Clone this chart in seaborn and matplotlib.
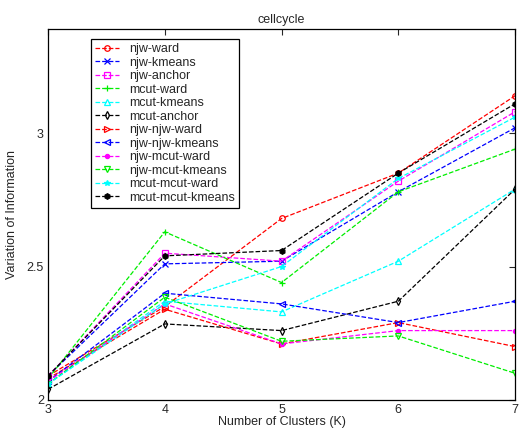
'''Variation of information vs number of clusters for the cellcycle data.'''

# -----------------------------------------------------------------------------
# Modules

from matplotlib import pyplot as plt  # type: ignore
import pandas as pd  # type: ignore
import seaborn as sns  # type: ignore

# -----------------------------------------------------------------------------
# Data

clusters = [3, 4, 5, 6, 7]

methods = ['njw-ward', 'njw-kmeans', 'njw-anchor', 'mcut-ward',
           'mcut-kmeans', 'mcut-anchor', 'njw-njw-ward', 'njw-njw-kmeans',
           'njw-mcut-ward', 'njw-mcut-kmeans', 'mcut-mcut-ward',
           'mcut-mcut-kmeans']

njw_ward = [2.09, 2.35, 2.68, 2.85, 3.14]
njw_kmeans = [2.09, 2.51, 2.52, 2.78, 3.02]
njw_anchor = [2.09, 2.55, 2.52, 2.82, 3.08]
mcut_ward = [2.08, 2.63, 2.44, 2.78, 2.94]
mcut_kmeans = [2.06, 2.37, 2.33, 2.52, 2.79]
mcut_anchor = [2.04, 2.285, 2.26, 2.37, 2.79]
njw_njw_ward = [2.08, 2.34, 2.21, 2.29, 2.20]
njw_njw_kmeans = [2.07, 2.40, 2.36, 2.29, 2.37]
njw_mcut_ward = [2.07, 2.36, 2.21, 2.26, 2.26]
njw_mcut_kmeans = [2.06, 2.385, 2.22, 2.24, 2.10]
mcut_mcut_ward = [2.06, 2.36, 2.50, 2.83, 3.06]
mcut_mcut_kmeans = [2.09, 2.54, 2.56, 2.85, 3.11]

values = [njw_ward, njw_kmeans, njw_anchor, mcut_ward, mcut_kmeans,
          mcut_anchor, njw_njw_ward, njw_njw_kmeans, njw_mcut_ward,
          njw_mcut_kmeans, mcut_mcut_ward, mcut_mcut_kmeans]

# -----------------------------------------------------------------------------


def main() -> None:
    """Draws the chart and saves it as out.png."""

    sns.set_style('white')
    plt.rcParams['font.family'] = ['Liberation Sans', 'DejaVu Sans']

    colors = ['red', 'blue', 'magenta', '#00ee00', 'cyan', 'black']
    markers = ['o', 'x', 's', '+', '^', 'd', '>', '<', '.', 'v', '*', 'h']

    figure = plt.figure(figsize=(5.19, 4.30), dpi=100)
    ax = figure.add_axes([0.0925, 0.0698, 0.9, 0.8628])

    for idx, name in enumerate(methods):
        data = pd.DataFrame({'K': clusters, 'VI': values[idx]})
        sns.lineplot(data=data, x='K', y='VI', ax=ax, label=name,
                     color=colors[idx % 6], marker=markers[idx],
                     linestyle='--', dashes=(3, 2.5), linewidth=0.9,
                     markersize=4 if markers[idx] != '.' else 6,
                     markerfacecolor='none' if markers[idx] not in
                     ('.', 'x', '+', '*', 'h') else colors[idx % 6],
                     markeredgecolor=colors[idx % 6], markeredgewidth=0.9)

    ax.set_xlim(3, 7)
    ax.set_ylim(2, 3.39)
    ax.set_xticks(clusters)
    ax.set_yticks([2, 2.5, 3])
    ax.set_yticklabels(['2', '2.5', '3'])
    ax.tick_params(direction='in', length=4, labelsize=9, top=True,
                   right=True, width=0.8, pad=3)
    for spine in ax.spines.values():
        spine.set_color('black')
        spine.set_linewidth(0.9)

    ax.set_title('cellcycle', fontsize=9, pad=4)
    ax.set_xlabel('Number of Clusters (K)', fontsize=9, labelpad=0)
    ax.set_ylabel('Variation of Information', fontsize=9, labelpad=6)

    legend = ax.legend(loc='upper left', bbox_to_anchor=(0.092, 0.973),
                       borderaxespad=0, fontsize=9, labelspacing=0.12,
                       handlelength=1.9, handletextpad=0.8,
                       fancybox=False, edgecolor='black', framealpha=1,
                       borderpad=0.35)
    legend.get_frame().set_linewidth(0.9)

    figure.savefig('out.png', dpi=100)
    plt.close()

# -----------------------------------------------------------------------------


if __name__ == '__main__':
    main()
